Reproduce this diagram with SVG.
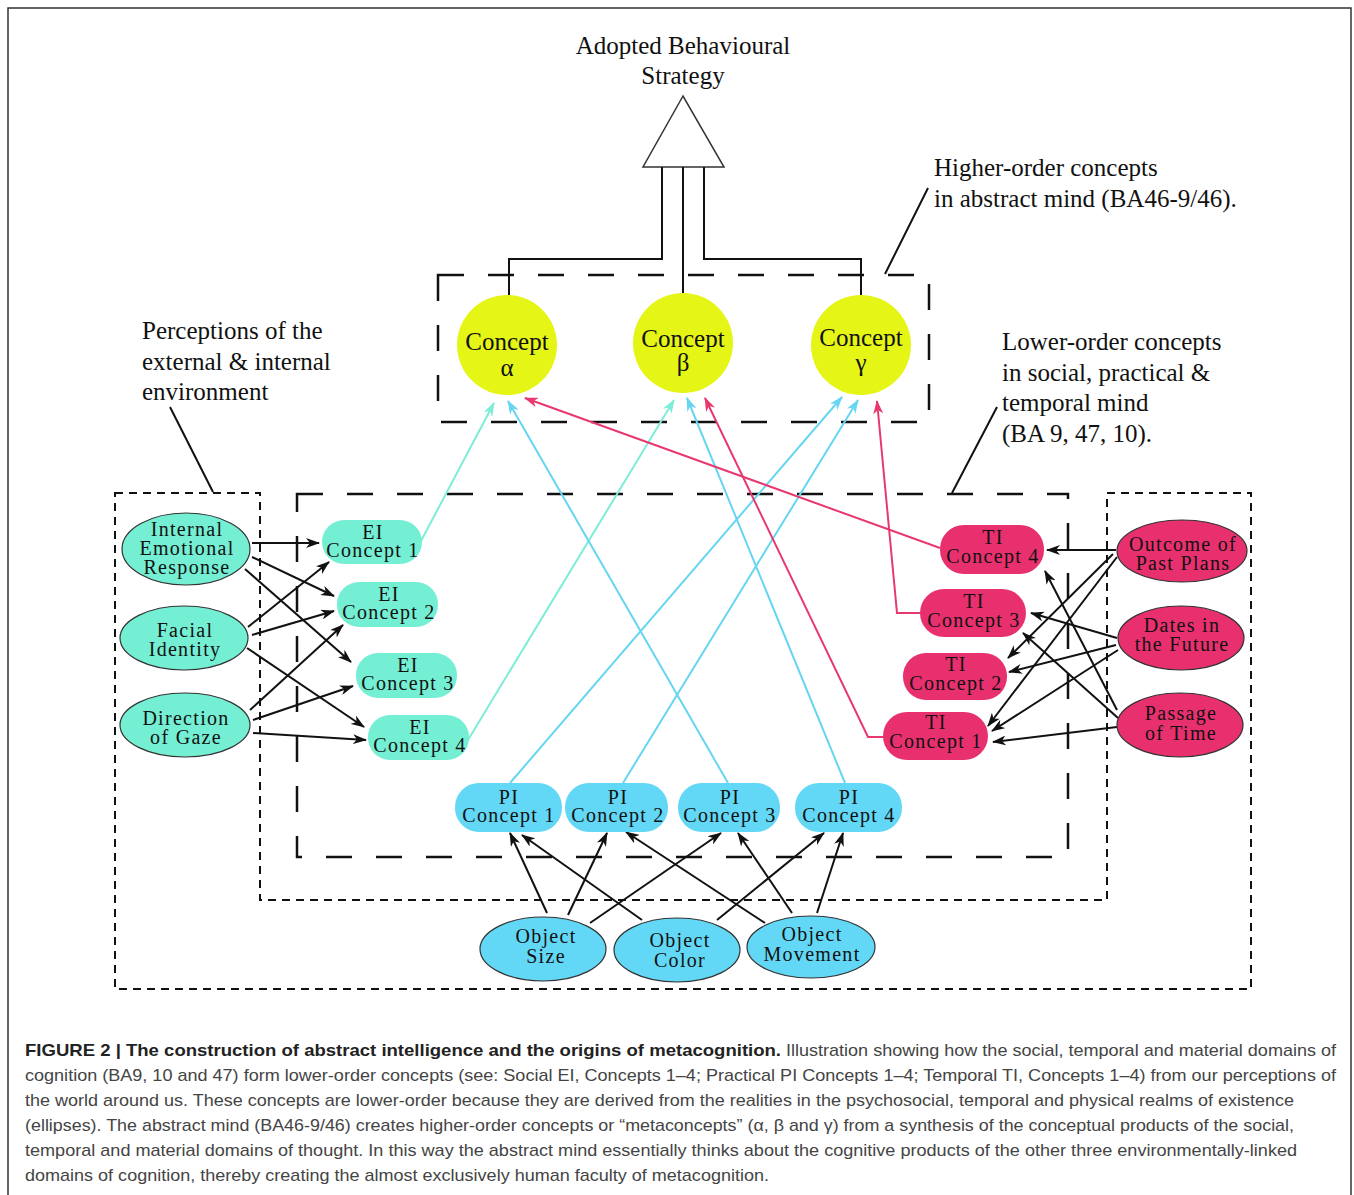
<svg xmlns="http://www.w3.org/2000/svg" width="1354" height="1195" viewBox="0 0 1354 1195">
<style>
.t{font-family:"Liberation Serif","Times New Roman",serif;fill:#111;}
.lab{font-size:25px;}
.nd{font-size:20px;letter-spacing:1.3px;text-anchor:middle;}
.cc{font-size:25px;text-anchor:middle;}
.cap{font-family:"Liberation Sans",Arial,sans-serif;font-size:17px;fill:#444;}
.capb{font-family:"Liberation Sans",Arial,sans-serif;font-size:17px;font-weight:bold;fill:#222;}
.ei{fill:#74EFD4;}
.pi{fill:#62D8F6;}
.ti{fill:#E8306F;}
.ell{stroke:#333;stroke-width:1.2;}
.blk{stroke:#111;stroke-width:2;fill:none;marker-end:url(#ah);}
.lt{stroke:#7DEDD8;stroke-width:2;fill:none;marker-end:url(#aht);}
.lb{stroke:#66D5F2;stroke-width:2;fill:none;marker-end:url(#ahb);}
.lp{stroke:#E8386E;stroke-width:2;fill:none;marker-end:url(#ahp);}
.sd{stroke:#111;stroke-width:2;fill:none;stroke-dasharray:8 6;}
.ld{stroke:#111;stroke-width:2.5;fill:none;stroke-dasharray:26 24;}
.ln{stroke:#111;stroke-width:2;fill:none;}
</style>
<defs>
<marker id="ah" viewBox="0 0 14 10" refX="13" refY="5" markerWidth="14" markerHeight="10" markerUnits="userSpaceOnUse" orient="auto"><path d="M0,0 L14,5 L0,10 L4,5 z" fill="#111"/></marker>
<marker id="aht" viewBox="0 0 14 10" refX="13" refY="5" markerWidth="14" markerHeight="10" markerUnits="userSpaceOnUse" orient="auto"><path d="M0,0 L14,5 L0,10 L4,5 z" fill="#7DEDD8"/></marker>
<marker id="ahb" viewBox="0 0 14 10" refX="13" refY="5" markerWidth="14" markerHeight="10" markerUnits="userSpaceOnUse" orient="auto"><path d="M0,0 L14,5 L0,10 L4,5 z" fill="#66D5F2"/></marker>
<marker id="ahp" viewBox="0 0 14 10" refX="13" refY="5" markerWidth="14" markerHeight="10" markerUnits="userSpaceOnUse" orient="auto"><path d="M0,0 L14,5 L0,10 L4,5 z" fill="#E8386E"/></marker>
</defs>
<rect x="0" y="0" width="1354" height="1195" fill="#fff"/>
<rect x="8" y="8" width="1343" height="1195" fill="none" stroke="#333" stroke-width="1.5"/>

<g id="frames">
<path class="sd" d="M115,493 L260,493 L260,900 L1107,900 L1107,493 L1251,493 L1251,989 L115,989 Z"/>
<rect class="ld" x="297" y="494" width="771" height="363"/>
<rect class="ld" x="438" y="275" width="491" height="147"/>
</g>

<g id="labels">
<text class="t lab" x="683" y="54" text-anchor="middle">Adopted Behavioural</text>
<text class="t lab" x="683" y="84" text-anchor="middle">Strategy</text>
<text class="t lab" x="934" y="176">Higher-order concepts</text>
<text class="t lab" x="934" y="207">in abstract mind (BA46-9/46).</text>
<text class="t lab" x="1002" y="350">Lower-order concepts</text>
<text class="t lab" x="1002" y="381">in social, practical &amp;</text>
<text class="t lab" x="1002" y="411">temporal mind</text>
<text class="t lab" x="1002" y="442">(BA 9, 47, 10).</text>
<text class="t lab" x="142" y="339">Perceptions of the</text>
<text class="t lab" x="142" y="370">external &amp; internal</text>
<text class="t lab" x="142" y="400">environment</text>
<line class="ln" x1="928" y1="188" x2="885" y2="274"/>
<line class="ln" x1="997" y1="407" x2="952" y2="493"/>
<line class="ln" x1="170" y1="407" x2="213" y2="492"/>
</g>

<g id="strategy">
<polygon points="683,96 643,167 724,167" fill="#fff" stroke="#333" stroke-width="1.5"/>
</g>

<g id="connectors">
<path class="ln" d="M662,167 L662,259 L509,259 L509,295"/>
<path class="ln" d="M683,167 L683,293"/>
<path class="ln" d="M704,167 L704,259 L861,259 L861,295"/>
<line class="blk" x1="252" y1="543" x2="319" y2="543"/>
<line class="blk" x1="252" y1="557" x2="334" y2="596"/>
<line class="blk" x1="245" y1="569" x2="351" y2="662"/>
<line class="blk" x1="248" y1="627" x2="329" y2="562"/>
<line class="blk" x1="252" y1="635" x2="334" y2="611"/>
<line class="blk" x1="247" y1="648" x2="364" y2="727"/>
<line class="blk" x1="250" y1="710" x2="343" y2="625"/>
<line class="blk" x1="253" y1="720" x2="353" y2="686"/>
<line class="blk" x1="253" y1="733" x2="366" y2="740"/>
<line class="blk" x1="1116" y1="550" x2="1047" y2="550"/>
<line class="blk" x1="1113" y1="554" x2="1008" y2="658"/>
<line class="blk" x1="1117" y1="557" x2="988" y2="726"/>
<line class="blk" x1="1117" y1="638" x2="1031" y2="613"/>
<line class="blk" x1="1116" y1="645" x2="1009" y2="672"/>
<line class="blk" x1="1118" y1="650" x2="992" y2="731"/>
<line class="blk" x1="1117" y1="710" x2="1045" y2="571"/>
<line class="blk" x1="1118" y1="718" x2="1023" y2="633"/>
<line class="blk" x1="1117" y1="727" x2="993" y2="742"/>
<line class="blk" x1="547" y1="913" x2="510" y2="833"/>
<line class="blk" x1="568" y1="915" x2="607" y2="833"/>
<line class="blk" x1="590" y1="923" x2="721" y2="833"/>
<line class="blk" x1="642" y1="920" x2="522" y2="835"/>
<line class="blk" x1="717" y1="920" x2="824" y2="833"/>
<line class="blk" x1="765" y1="923" x2="626" y2="832"/>
<line class="blk" x1="792" y1="913" x2="738" y2="833"/>
<line class="blk" x1="817" y1="913" x2="843" y2="833"/>
<line class="lt" x1="421" y1="541" x2="494" y2="403"/>
<line class="lt" x1="468" y1="740" x2="674" y2="400"/>
<line class="lb" x1="510" y1="783" x2="842" y2="397"/>
<line class="lb" x1="623" y1="783" x2="858" y2="400"/>
<line class="lb" x1="728" y1="783" x2="508" y2="401"/>
<line class="lb" x1="845" y1="783" x2="687" y2="398"/>
<line class="lp" x1="940" y1="548" x2="525" y2="398"/>
<path class="lp" d="M884,737 L868,737 L705,398"/>
<path class="lp" d="M921,613 L897,613 L877,401"/>
</g>

<g id="concept-alpha">
<circle cx="507" cy="345" r="50" fill="#E5F516"/>
<text class="t cc" x="507" y="350">Concept</text>
<text class="t cc" x="507" y="376">α</text>
</g>
<g id="concept-beta">
<circle cx="683" cy="343" r="50" fill="#E5F516"/>
<text class="t cc" x="683" y="347">Concept</text>
<text class="t cc" x="683" y="371">β</text>
</g>
<g id="concept-gamma">
<circle cx="861" cy="345" r="50" fill="#E5F516"/>
<text class="t cc" x="861" y="346">Concept</text>
<text class="t cc" x="861" y="371">γ</text>
</g>

<g id="internal-emotional-response">
<ellipse class="ei ell" cx="186" cy="549" rx="64" ry="36"/>
<text class="t nd" x="187" y="536">Internal</text>
<text class="t nd" x="187" y="555">Emotional</text>
<text class="t nd" x="187" y="574">Response</text>
</g>
<g id="facial-identity">
<ellipse class="ei ell" cx="184" cy="638" rx="64" ry="32"/>
<text class="t nd" x="185" y="637">Facial</text>
<text class="t nd" x="185" y="656">Identity</text>
</g>
<g id="direction-of-gaze">
<ellipse class="ei ell" cx="185" cy="725" rx="65" ry="32"/>
<text class="t nd" x="186" y="725">Direction</text>
<text class="t nd" x="186" y="744">of Gaze</text>
</g>

<g id="ei-concept-1">
<rect class="ei" x="322" y="520" width="100" height="44" rx="22"/>
<text class="t nd" x="373" y="539">EI</text>
<text class="t nd" x="373" y="557">Concept 1</text>
</g>
<g id="ei-concept-2">
<rect class="ei" x="337" y="582" width="101" height="45" rx="22"/>
<text class="t nd" x="389" y="601">EI</text>
<text class="t nd" x="389" y="619">Concept 2</text>
</g>
<g id="ei-concept-3">
<rect class="ei" x="356" y="653" width="101" height="45" rx="22"/>
<text class="t nd" x="408" y="672">EI</text>
<text class="t nd" x="408" y="690">Concept 3</text>
</g>
<g id="ei-concept-4">
<rect class="ei" x="368" y="715" width="101" height="45" rx="22"/>
<text class="t nd" x="420" y="734">EI</text>
<text class="t nd" x="420" y="752">Concept 4</text>
</g>

<g id="ti-concept-4">
<rect class="ti" x="940" y="525" width="104" height="49" rx="24"/>
<text class="t nd" x="993" y="544">TI</text>
<text class="t nd" x="993" y="563">Concept 4</text>
</g>
<g id="ti-concept-3">
<rect class="ti" x="920" y="589" width="106" height="48" rx="24"/>
<text class="t nd" x="974" y="608">TI</text>
<text class="t nd" x="974" y="627">Concept 3</text>
</g>
<g id="ti-concept-2">
<rect class="ti" x="903" y="653" width="104" height="47" rx="23"/>
<text class="t nd" x="956" y="671">TI</text>
<text class="t nd" x="956" y="690">Concept 2</text>
</g>
<g id="ti-concept-1">
<rect class="ti" x="883" y="712" width="105" height="48" rx="24"/>
<text class="t nd" x="936" y="729">TI</text>
<text class="t nd" x="936" y="748">Concept 1</text>
</g>

<g id="outcome-of-past-plans">
<ellipse class="ti ell" cx="1182" cy="551" rx="65" ry="31"/>
<text class="t nd" x="1183" y="551">Outcome of</text>
<text class="t nd" x="1183" y="570">Past Plans</text>
</g>
<g id="dates-in-the-future">
<ellipse class="ti ell" cx="1181" cy="638" rx="63" ry="32"/>
<text class="t nd" x="1182" y="632">Dates in</text>
<text class="t nd" x="1182" y="651">the Future</text>
</g>
<g id="passage-of-time">
<ellipse class="ti ell" cx="1180" cy="725" rx="63" ry="32"/>
<text class="t nd" x="1181" y="720">Passage</text>
<text class="t nd" x="1181" y="740">of Time</text>
</g>

<g id="pi-concept-1">
<rect class="pi" x="455" y="783" width="107" height="49" rx="24"/>
<text class="t nd" x="509" y="804">PI</text>
<text class="t nd" x="509" y="822">Concept 1</text>
</g>
<g id="pi-concept-2">
<rect class="pi" x="565" y="783" width="103" height="49" rx="24"/>
<text class="t nd" x="618" y="804">PI</text>
<text class="t nd" x="618" y="822">Concept 2</text>
</g>
<g id="pi-concept-3">
<rect class="pi" x="678" y="783" width="102" height="49" rx="24"/>
<text class="t nd" x="730" y="804">PI</text>
<text class="t nd" x="730" y="822">Concept 3</text>
</g>
<g id="pi-concept-4">
<rect class="pi" x="795" y="783" width="107" height="49" rx="24"/>
<text class="t nd" x="849" y="804">PI</text>
<text class="t nd" x="849" y="822">Concept 4</text>
</g>

<g id="object-size">
<ellipse class="pi ell" cx="543" cy="949" rx="63" ry="32"/>
<text class="t nd" x="546" y="943">Object</text>
<text class="t nd" x="546" y="963">Size</text>
</g>
<g id="object-color">
<ellipse class="pi ell" cx="677" cy="950" rx="63" ry="32"/>
<text class="t nd" x="680" y="947">Object</text>
<text class="t nd" x="680" y="967">Color</text>
</g>
<g id="object-movement">
<ellipse class="pi ell" cx="811" cy="947" rx="64" ry="31"/>
<text class="t nd" x="812" y="941">Object</text>
<text class="t nd" x="812" y="961">Movement</text>
</g>

<g id="caption">
<text class="capb" x="25" y="1056" textLength="756" lengthAdjust="spacingAndGlyphs">FIGURE 2 | The construction of abstract intelligence and the origins of metacognition.</text>
<text class="cap" x="786" y="1056" textLength="550" lengthAdjust="spacingAndGlyphs">Illustration showing how the social, temporal and material domains of</text>
<text class="cap" x="25" y="1081" textLength="1311" lengthAdjust="spacingAndGlyphs">cognition (BA9, 10 and 47) form lower-order concepts (see: Social EI, Concepts 1–4; Practical PI Concepts 1–4; Temporal TI, Concepts 1–4) from our perceptions of</text>
<text class="cap" x="25" y="1106" textLength="1269" lengthAdjust="spacingAndGlyphs">the world around us. These concepts are lower-order because they are derived from the realities in the psychosocial, temporal and physical realms of existence</text>
<text class="cap" x="25" y="1131" textLength="1269" lengthAdjust="spacingAndGlyphs">(ellipses). The abstract mind (BA46-9/46) creates higher-order concepts or “metaconcepts” (α, β and γ) from a synthesis of the conceptual products of the social,</text>
<text class="cap" x="25" y="1156" textLength="1272" lengthAdjust="spacingAndGlyphs">temporal and material domains of thought. In this way the abstract mind essentially thinks about the cognitive products of the other three environmentally-linked</text>
<text class="cap" x="25" y="1181" textLength="744" lengthAdjust="spacingAndGlyphs">domains of cognition, thereby creating the almost exclusively human faculty of metacognition.</text>
</g>
</svg>
